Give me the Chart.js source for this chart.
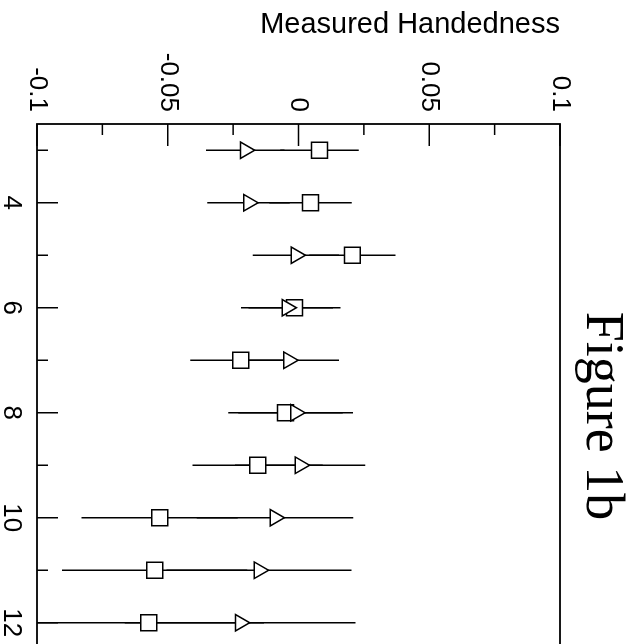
<!DOCTYPE html>
<html lang="en">

<head>
    <meta charset="UTF-8" />
    <title>Figure 1b</title>
    <script src="https://cdn.jsdelivr.net/npm/chart.js"></script>
    <style>
        html, body { margin: 0; padding: 0; width: 640px; height: 644px; overflow: hidden; background: #fff; }
        /* the figure is drawn upright, then turned a quarter clockwise like the scan */
        #wrap { position: absolute; left: 0; top: 0; width: 832px; height: 640px;
                transform-origin: 0 0; transform: translateX(640px) rotate(90deg); }
    </style>
</head>

<body>
    <div id="wrap"><canvas id="fig" width="832" height="640"></canvas></div>

    <script>
        // sample index along the bottom axis
        const samples = [3, 4, 5, 6, 7, 8, 9, 10, 11, 12];
        // measured handedness, two series
        const squareValues = [0.0080, 0.0046, 0.0206, -0.0015, -0.0221, -0.0050, -0.0156, -0.0531, -0.0550, -0.0573];
        const triangleValues = [-0.0204, -0.0191, -0.0010, -0.0044, -0.0038, -0.0011, 0.0006, -0.0090, -0.0151, -0.0223];
        // one-sigma errors (same for both series)
        const errors = [0.0150, 0.0158, 0.0165, 0.0176, 0.0193, 0.0219, 0.0249, 0.0299, 0.0354, 0.0441];

        const xTickLabels = [4, 6, 8, 10, 12];
        const yTickLabels = [-0.1, -0.05, 0, 0.05, 0.1];

        const near = (a, b) => Math.abs(a - b) < 1e-6;

        // vertical error bars drawn under the markers
        const errorBars = {
            id: "errorBars",
            beforeDatasetsDraw(chart) {
                const { ctx, chartArea: a, scales: { x, y } } = chart;
                ctx.save();
                ctx.beginPath();
                ctx.rect(a.left, a.top, a.right - a.left, a.bottom - a.top);
                ctx.clip();
                ctx.strokeStyle = "#000";
                ctx.lineWidth = 1.5;
                [squareValues, triangleValues].forEach(vals => {
                    vals.forEach((v, i) => {
                        const px = x.getPixelForValue(samples[i]);
                        ctx.beginPath();
                        ctx.moveTo(px, y.getPixelForValue(v - errors[i]));
                        ctx.lineTo(px, y.getPixelForValue(v + errors[i]));
                        ctx.stroke();
                    });
                });
                ctx.restore();
            },
            afterDatasetsDraw(chart) {
                // frame and inward tick marks
                const { ctx, chartArea: a, scales: { x, y } } = chart;
                ctx.save();
                ctx.strokeStyle = "#000";
                ctx.lineWidth = 1.8;
                ctx.strokeRect(a.left, a.top, a.right - a.left, a.bottom - a.top);
                ctx.lineWidth = 1.5;
                x.ticks.forEach(t => {
                    const len = xTickLabels.includes(t.value) ? 21 : 11;
                    const px = x.getPixelForValue(t.value);
                    ctx.beginPath();
                    ctx.moveTo(px, a.bottom);
                    ctx.lineTo(px, a.bottom - len);
                    ctx.stroke();
                });
                y.ticks.forEach(t => {
                    const len = yTickLabels.some(l => near(l, t.value)) ? 22 : 11;
                    const py = y.getPixelForValue(t.value);
                    ctx.beginPath();
                    ctx.moveTo(a.left, py);
                    ctx.lineTo(a.left + len, py);
                    ctx.stroke();
                });
                ctx.restore();
            }
        };

        const caption = {
            id: "caption",
            afterDraw(chart) {
                const ctx = chart.ctx;
                ctx.save();
                ctx.font = '54px "Liberation Serif"';
                ctx.fillStyle = "#000";
                ctx.textAlign = "center";
                ctx.textBaseline = "alphabetic";
                ctx.fillText("Figure 1b", chart.width / 2, 53);
                ctx.restore();
            }
        };

        const pointStyleCommon = {
            backgroundColor: "#fff",
            borderColor: "#000",
            borderWidth: 1.5,
        };

        new Chart(document.getElementById("fig"), {
            type: "scatter",
            data: {
                datasets: [
                    {
                        label: "triangles",
                        data: samples.map((s, i) => ({ x: s, y: triangleValues[i] })),
                        pointStyle: "triangle",
                        pointRadius: 9.5,
                        pointHoverRadius: 9.5,
                        ...pointStyleCommon,
                    },
                    {
                        label: "squares",
                        data: samples.map((s, i) => ({ x: s, y: squareValues[i] })),
                        pointStyle: "rect",
                        pointRadius: 11.3,
                        pointHoverRadius: 11.3,
                        ...pointStyleCommon,
                    },
                ],
            },
            options: {
                responsive: false,
                animation: false,
                layout: { padding: { top: 80, right: 183, left: 0, bottom: 0 } },
                plugins: {
                    legend: { display: false },
                    tooltip: { enabled: false },
                },
                scales: {
                    x: {
                        type: "linear",
                        min: 2.5,
                        max: 12.5,
                        grid: { display: false, drawTicks: false },
                        border: { display: false },
                        // one tick per sample, labels on the even ones
                        afterBuildTicks: s => { s.ticks = samples.map(v => ({ value: v })); },
                        ticks: {
                            autoSkip: false,
                            maxRotation: 0,
                            padding: 10,
                            color: "#000",
                            font: { family: "Liberation Sans", size: 26 },
                            callback: v => xTickLabels.includes(v) ? String(v) : "",
                        },
                        afterFit: s => { s.height = 37; },
                    },
                    y: {
                        min: -0.1,
                        max: 0.1,
                        grid: { display: false, drawTicks: false },
                        border: { display: false },
                        ticks: {
                            stepSize: 0.025,
                            autoSkip: false,
                            padding: 12,
                            color: "#000",
                            font: { family: "Liberation Sans", size: 26 },
                            callback: v => {
                                const l = yTickLabels.find(l => near(l, v));
                                return l === undefined ? "" : String(l);
                            },
                        },
                        title: {
                            display: true,
                            text: "Measured Handedness",
                            align: "end",
                            color: "#000",
                            font: { family: "Liberation Sans", size: 29 },
                            padding: { top: 7.6, bottom: 0 },
                        },
                        afterFit: s => { s.width = 124; },
                    },
                },
            },
            plugins: [errorBars, caption],
        });
    </script>
</body>

</html>
